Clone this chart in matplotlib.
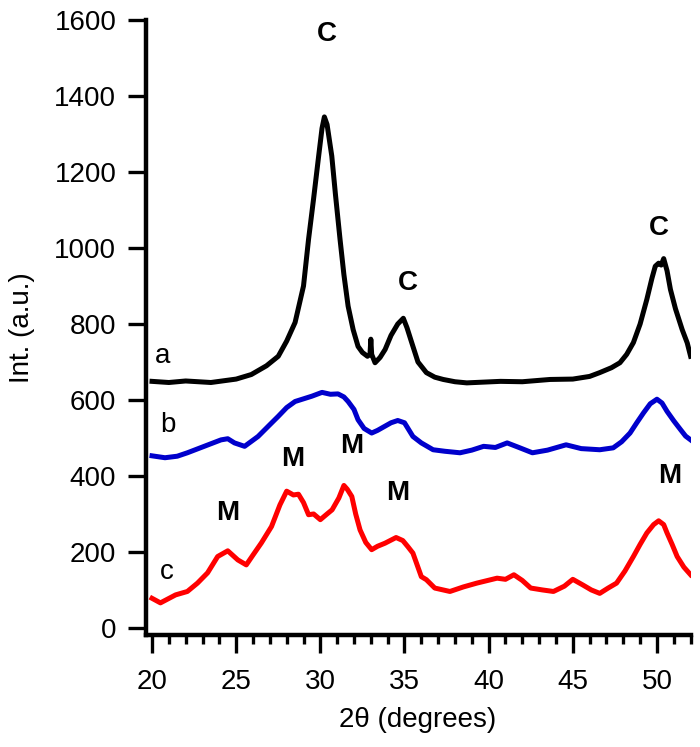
import matplotlib
matplotlib.use("Agg")
import matplotlib.pyplot as plt
from matplotlib.ticker import MultipleLocator

plt.rcParams['font.family'] = ['Liberation Sans', 'DejaVu Sans']

# pattern a (black)
xa = [20, 21, 22, 23.5, 25, 25.9, 26.8, 27.5, 28.0, 28.5, 29.0, 29.3, 29.6, 29.9, 30.1, 30.24, 30.4,
      30.68, 30.9, 31.17, 31.4, 31.65, 31.95, 32.24, 32.5, 32.8, 32.95, 33.0, 33.05, 33.25, 33.55, 33.85,
      34.2, 34.6, 34.93, 35.15, 35.43, 35.8, 36.3, 36.8, 37.3, 38.0, 38.7, 40.7, 42.0, 43.65, 45.0, 46.0,
      46.6, 47.3, 47.8, 48.2, 48.6, 49.0, 49.4, 49.7, 49.9, 50.1, 50.25, 50.4, 50.6, 50.8, 51.1, 51.5,
      51.8, 52.0]
ya = [649, 646, 650, 646, 655, 667, 690, 715, 755, 804, 900, 1023, 1130, 1242, 1315, 1345, 1325,
      1242, 1140, 1023, 930, 847, 785, 741, 725, 715, 720, 760, 720, 698, 712, 733,
      770, 800, 815, 790, 751, 700, 672, 660, 654, 648, 645, 649, 648, 654, 655, 662,
      672, 685, 698, 720, 751, 800, 865, 920, 952, 960, 955, 972, 940, 891, 840, 785,
      750, 715]

# pattern b (blue)
xb = [20, 20.77, 21.5, 22.1, 23.1, 24.1, 24.5, 24.9, 25.5, 26.3, 27.0, 27.5, 28.0, 28.5, 29.0, 29.5,
      30.1, 30.6, 31.05, 31.4, 31.65, 32.0, 32.24, 32.6, 33.05, 33.4, 33.84, 34.2, 34.6, 35.0, 35.5,
      36.0, 36.7, 37.4, 38.3, 39.0, 39.7, 40.4, 41.1, 41.8, 42.6, 43.5, 44.6, 45.5, 46.6, 47.4, 47.9,
      48.4, 48.8, 49.2, 49.6, 50.0, 50.3, 50.6, 51.0, 51.4, 51.7, 52.0]
yb = [453, 448, 452, 461, 478, 495, 498, 487, 478, 504, 535, 557, 580, 596, 603, 610,
      620, 615, 616, 608, 596, 575, 548, 525, 513, 520, 531, 540, 546, 540, 504,
      487, 469, 465, 461, 468, 478, 475, 487, 475, 461, 468, 482, 472, 469, 474, 490,
      513, 540, 566, 590, 602, 592, 570, 545, 522, 505, 495]

# pattern c (red)
xc = [20, 20.5, 21.4, 22.1, 22.7, 23.3, 23.9, 24.5, 25.1, 25.6, 26.0, 26.5, 27.1, 27.6, 28.0, 28.4,
      28.7, 29.0, 29.3, 29.6, 30.0, 30.4, 30.7, 31.1, 31.4, 31.6, 31.87, 32.1, 32.36, 32.7, 33.05,
      33.4, 33.84, 34.5, 34.9, 35.2, 35.5, 36.0, 36.3, 36.8, 37.7, 38.5, 39.3, 40.5, 41.0, 41.5, 42.0,
      42.5, 43.2, 43.85, 44.5, 45.0, 45.6, 46.1, 46.6, 47.1, 47.6, 48.1, 48.6, 49.0, 49.4, 49.8, 50.1,
      50.4, 50.6, 50.9, 51.2, 51.6, 52.0]
yc = [78, 66, 87, 96, 118, 145, 188, 203, 179, 166, 192, 224, 267, 324, 360, 350,
      352, 330, 298, 300, 285, 300, 311, 342, 375, 365, 346, 300, 258, 225, 206,
      215, 223, 238, 230, 214, 197, 135, 127, 105, 96, 108, 118, 131, 128, 140, 125,
      105, 100, 96, 110, 128, 113, 100, 91, 105, 118, 150, 188, 220, 250, 272, 282,
      272, 250, 220, 188, 160, 140]

series_labels = ['a', 'b', 'c']
label_pos = [(20.6, 715), (20.95, 535), (20.9, 146)]

peak_marks = ['C', 'C', 'C', 'M', 'M', 'M', 'M', 'M']
peak_pos = [(30.4, 1563), (35.2, 909), (50.1, 1052), (24.5, 302), (28.35, 445),
            (31.87, 478), (34.6, 355), (50.75, 399)]

fig = plt.figure(figsize=(7, 7.47), dpi=100)
ax = fig.add_axes([0.2079, 0.1493, 0.9866 - 0.2079, 0.9732 - 0.1493])

ax.plot(xa, ya, color='black', lw=3.6)
ax.plot(xb, yb, color='#0000cc', lw=3.6)
ax.plot(xc, yc, color='#ff0000', lw=3.6)

for t, (x, y) in zip(series_labels, label_pos):
    ax.text(x, y, t, fontsize=20, ha='center', va='center')
for t, (x, y) in zip(peak_marks, peak_pos):
    ax.text(x, y, t, fontsize=20, fontweight='bold', ha='center', va='center')

ax.set_xlim(19.614, 52)
ax.set_ylim(-19.8, 1600)
ax.xaxis.set_major_locator(MultipleLocator(5))
ax.xaxis.set_minor_locator(MultipleLocator(1))
ax.set_xticks([20, 25, 30, 35, 40, 45, 50])
ax.set_yticks(range(0, 1601, 200))

for s in ['top', 'right']:
    ax.spines[s].set_visible(False)
for s in ['left', 'bottom']:
    ax.spines[s].set_linewidth(3.2)

ax.tick_params(axis='both', which='major', direction='out', length=13, width=2.4,
               labelsize=20)
ax.tick_params(axis='x', which='major', pad=11)
ax.tick_params(axis='y', which='major', pad=8)
ax.tick_params(axis='x', which='minor', direction='out', length=6.5, width=2.4)

ax.set_xlabel('2θ (degrees)', fontsize=20, labelpad=9)
ax.set_ylabel('Int. (a.u.)', fontsize=20, labelpad=14)

fig.savefig('out.png', dpi=100)
